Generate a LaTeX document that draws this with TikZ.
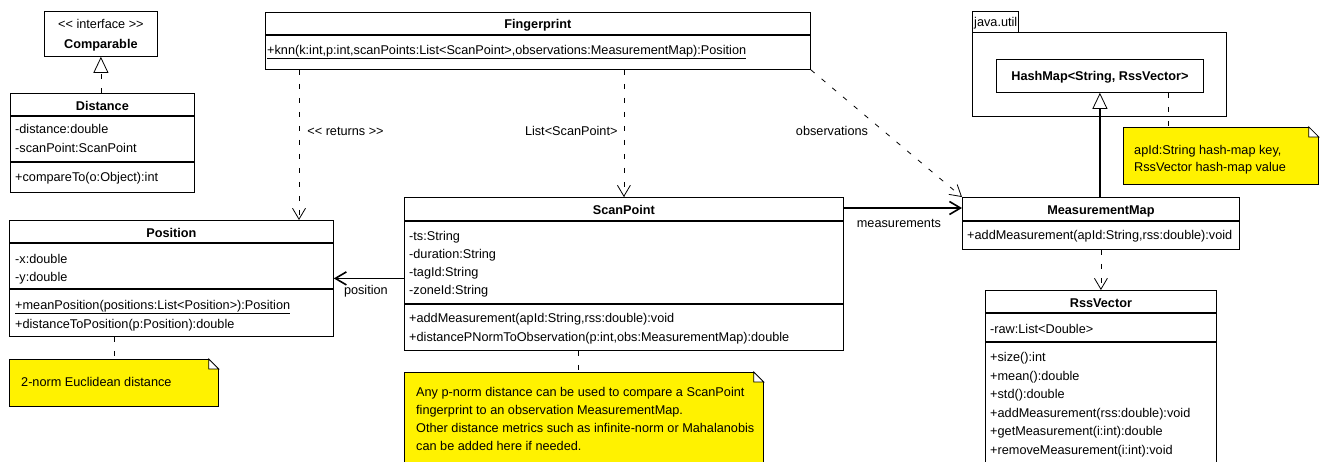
\documentclass[tikz,border=0pt]{standalone}
\usepackage{fontspec}
\setmainfont{Liberation Sans}
\usepackage{tikz}
\usetikzlibrary{arrows.meta}

\newcommand{\umlsize}{\fontsize{12.7}{17.7}\selectfont}
% dog ear of a note
\newcommand{\notefold}[1]{%
  \fill[white] ([xshift=-10pt,yshift=1pt]#1.north east) rectangle ([xshift=1pt,yshift=-10pt]#1.north east);
  \draw[line width=0.8pt] ([xshift=-10pt]#1.north east) -- ([yshift=-10pt]#1.north east)
     -- ([xshift=-10pt,yshift=-10pt]#1.north east) -- cycle;}

\tikzstyle{classbox} = [draw=black, line width=0.8pt, rectangle, fill=white, inner sep=0pt, anchor=north west]
\tikzstyle{classname} = [inner sep=0pt, text height=9pt, text depth=0pt, font=\umlsize\bfseries]
\tikzstyle{member} = [inner sep=0pt, text height=9pt, text depth=0pt, anchor=west, font=\umlsize]
\tikzstyle{sepline} = [line width=1.8pt]
\tikzstyle{notebox} = [draw=black, line width=0.8pt, rectangle, fill=yellow, inner sep=0pt, anchor=north west]
\tikzstyle{notetext} = [inner sep=0pt, anchor=north west, align=left, font=\umlsize]
\tikzstyle{linklabel} = [inner sep=0pt, text height=9pt, text depth=0pt, font=\umlsize]
\tikzstyle{dep} = [line width=0.8pt, dash pattern=on 5pt off 9pt, -{Straight Barb[length=11pt,width=13pt]}]
\tikzstyle{assoc} = [line width=1.6pt, -{Straight Barb[length=11pt,width=13pt]}]
\tikzstyle{realize} = [line width=0.8pt, dash pattern=on 5pt off 9pt, -{Triangle[open,length=16pt,width=15pt]}]
\tikzstyle{inherit} = [line width=1.8pt, -{Triangle[open,line width=0.8pt,length=16pt,width=15pt]}]
\tikzstyle{noteline} = [line width=0.8pt, dash pattern=on 5pt off 9pt]

\begin{document}
\begin{tikzpicture}[x=1pt, y=-1pt]
\clip (0,0) rectangle (1324,461);

% Comparable and Distance
\node[classbox, minimum width=113pt, minimum height=45pt] (comparable) at (44,11) {};
\node[linklabel] (comparable-st) at ([shift={(0,13)}]comparable.north) {<\kern0pt< interface >\kern0pt>};
\node[classname] (comparable-t) at ([shift={(0,33)}]comparable.north) {Comparable};

\node[classbox, minimum width=184pt, minimum height=99pt] (distance) at (10,93) {};
\node[classname] (distance-t) at ([shift={(0,13)}]distance.north) {Distance};
\draw[sepline] ([shift={(0,23)}]distance.north west) -- ([shift={(0,23)}]distance.north east);
\node[member] (distance-a1) at ([shift={(5,36)}]distance.north west) {-distance:double};
\node[member] (distance-a2) at ([shift={(5,55)}]distance.north west) {-scanPoint:ScanPoint};
\draw[sepline] ([shift={(0,69)}]distance.north west) -- ([shift={(0,69)}]distance.north east);
\node[member] (distance-m1) at ([shift={(5,84)}]distance.north west) {+compareTo(o:Object):int};

% Fingerprint
\node[classbox, minimum width=545pt, minimum height=57pt] (fingerprint) at (265,12) {};
\node[classname] (fingerprint-t) at ([shift={(0,12)}]fingerprint.north) {Fingerprint};
\draw[sepline] ([shift={(0,23)}]fingerprint.north west) -- ([shift={(0,23)}]fingerprint.north east);
\node[member] (fingerprint-m1) at ([shift={(2,38)}]fingerprint.north west) {\underline{+knn(k:int,p:int,scanPoints:List<ScanPoint>,observations:MeasurementMap):Position}};

% Position
\node[classbox, minimum width=324pt, minimum height=116pt] (position) at (9,220) {};
\node[classname] (position-t) at ([shift={(0,13)}]position.north) {Position};
\draw[sepline] ([shift={(0,23)}]position.north west) -- ([shift={(0,23)}]position.north east);
\node[member] (position-a1) at ([shift={(6,39)}]position.north west) {-x:double};
\node[member] (position-a2) at ([shift={(6,57)}]position.north west) {-y:double};
\draw[sepline] ([shift={(0,69)}]position.north west) -- ([shift={(0,69)}]position.north east);
\node[member] (position-m1) at ([shift={(6,85)}]position.north west) {\underline{+meanPosition(positions:List<Position>):Position}};
\node[member] (position-m2) at ([shift={(6,104)}]position.north west) {+distanceToPosition(p:Position):double};

% ScanPoint
\node[classbox, minimum width=439pt, minimum height=153pt] (scanpoint) at (404,197) {};
\node[classname] (scanpoint-t) at ([shift={(0,13)}]scanpoint.north) {ScanPoint};
\draw[sepline] ([shift={(0,24)}]scanpoint.north west) -- ([shift={(0,24)}]scanpoint.north east);
\node[member] (scanpoint-a1) at ([shift={(5,38.5)}]scanpoint.north west) {-ts:String};
\node[member] (scanpoint-a2) at ([shift={(5,56.8)}]scanpoint.north west) {-duration:String};
\node[member] (scanpoint-a3) at ([shift={(5,75.1)}]scanpoint.north west) {-tagId:String};
\node[member] (scanpoint-a4) at ([shift={(5,93.4)}]scanpoint.north west) {-zoneId:String};
\draw[sepline] ([shift={(0,107)}]scanpoint.north west) -- ([shift={(0,107)}]scanpoint.north east);
\node[member] (scanpoint-m1) at ([shift={(5,121)}]scanpoint.north west) {+addMeasurement(apId:String,rss:double):void};
\node[member] (scanpoint-m2) at ([shift={(5,140)}]scanpoint.north west) {+distancePNormToObservation(p:int,obs:MeasurementMap):double};

% java.util package with HashMap
\node[classbox, minimum width=46pt, minimum height=21pt] (utiltab) at (972,11) {};
\node[member] (utiltab-t) at ([shift={(2,0)}]utiltab.west) {java.util};
\node[classbox, minimum width=254pt, minimum height=84pt] (utilpkg) at (972,32) {};
\node[classbox, minimum width=207pt, minimum height=33pt] (hashmap) at (996,59) {};
\node[classname] (hashmap-t) at (hashmap.center) {HashMap<String, RssVector>};

% MeasurementMap
\node[classbox, minimum width=277pt, minimum height=52pt] (measmap) at (962,197) {};
\node[classname] (measmap-t) at ([shift={(0,13)}]measmap.north) {MeasurementMap};
\draw[sepline] ([shift={(0,24)}]measmap.north west) -- ([shift={(0,24)}]measmap.north east);
\node[member] (measmap-m1) at ([shift={(5,38)}]measmap.north west) {+addMeasurement(apId:String,rss:double):void};

% RssVector
\node[classbox, minimum width=231pt, minimum height=200pt] (rssvector) at (985,290) {};
\node[classname] (rssvector-t) at ([shift={(0,13)}]rssvector.north) {RssVector};
\draw[sepline] ([shift={(0,23)}]rssvector.north west) -- ([shift={(0,23)}]rssvector.north east);
\node[member] (rssvector-a1) at ([shift={(5,39)}]rssvector.north west) {-raw:List<Double>};
\draw[sepline] ([shift={(0,52)}]rssvector.north west) -- ([shift={(0,52)}]rssvector.north east);
\node[member] (rssvector-m1) at ([shift={(5,67)}]rssvector.north west) {+size():int};
\node[member] (rssvector-m2) at ([shift={(5,85.5)}]rssvector.north west) {+mean():double};
\node[member] (rssvector-m3) at ([shift={(5,104)}]rssvector.north west) {+std():double};
\node[member] (rssvector-m4) at ([shift={(5,122.5)}]rssvector.north west) {+addMeasurement(rss:double):void};
\node[member] (rssvector-m5) at ([shift={(5,141)}]rssvector.north west) {+getMeasurement(i:int):double};
\node[member] (rssvector-m6) at ([shift={(5,159.5)}]rssvector.north west) {+removeMeasurement(i:int):void};

% notes
\node[notebox, minimum width=195pt, minimum height=57pt] (notehash) at (1123,127) {};
\notefold{notehash}
\node[notetext, font=\fontsize{12.7}{16.5}\selectfont] (notehash-t) at ([shift={(11,18.5)}]notehash.north west) {apId:String hash-map key,\\RssVector hash-map value};

\node[notebox, minimum width=209pt, minimum height=47pt] (noteeuclid) at (9,359) {};
\notefold{noteeuclid}
\node[member] (noteeuclid-t) at ([shift={(12,23)}]noteeuclid.north west) {2-norm Euclidean distance};

\node[notebox, minimum width=359pt, minimum height=120pt] (notepnorm) at (404,372) {};
\notefold{notepnorm}
\node[notetext] (notepnorm-t) at ([shift={(12,15.5)}]notepnorm.north west) {Any p-norm distance can be used to compare a ScanPoint\\fingerprint to an observation MeasurementMap.\\Other distance metrics such as infinite-norm or Mahalanobis\\can be added here if needed.};

% connectors
\draw[realize] (comparable.south |- distance.north) -- (comparable.south);
\draw[dep] ([xshift=34pt]fingerprint.south west) -- ([xshift=34pt]fingerprint.south west |- position.north)
  node[linklabel, pos=0.41, anchor=west, xshift=8pt] (returns-l) {<\kern0pt< returns >\kern0pt>};
\draw[dep] (scanpoint.north |- fingerprint.south) -- (scanpoint.north)
  node[linklabel, pos=0.48, anchor=east, xshift=-6pt] (scanpoints-l) {List<ScanPoint>};
\draw[dep] (fingerprint.south east) -- (measmap.north west)
  node[linklabel, pos=0.48, anchor=east, xshift=-15pt] (observations-l) {observations};
\draw[assoc] ([yshift=-11pt]scanpoint.north east) -- ([yshift=-11pt]measmap.north west)
  node[linklabel, midway, anchor=north, yshift=-9.5pt, xshift=-4pt] (measurements-l) {measurements};
\draw[assoc] (scanpoint.west |- position.east) -- (position.east)
  node[linklabel, midway, anchor=north, yshift=-6.5pt, xshift=-3pt] (position-l) {position};
\draw[inherit] (hashmap.south |- measmap.north) -- (hashmap.south);
\draw[dep] (measmap.south) -- (rssvector.north);
\draw[noteline] ([xshift=45pt]notehash.north west |- hashmap.south) -- ([xshift=45pt]notehash.north west);
\draw[noteline] (noteeuclid.north |- position.south) -- (noteeuclid.north);
\draw[noteline] ([xshift=-5.5pt]notepnorm.north |- scanpoint.south) -- ([xshift=-5.5pt]notepnorm.north);
\end{tikzpicture}
\end{document}
